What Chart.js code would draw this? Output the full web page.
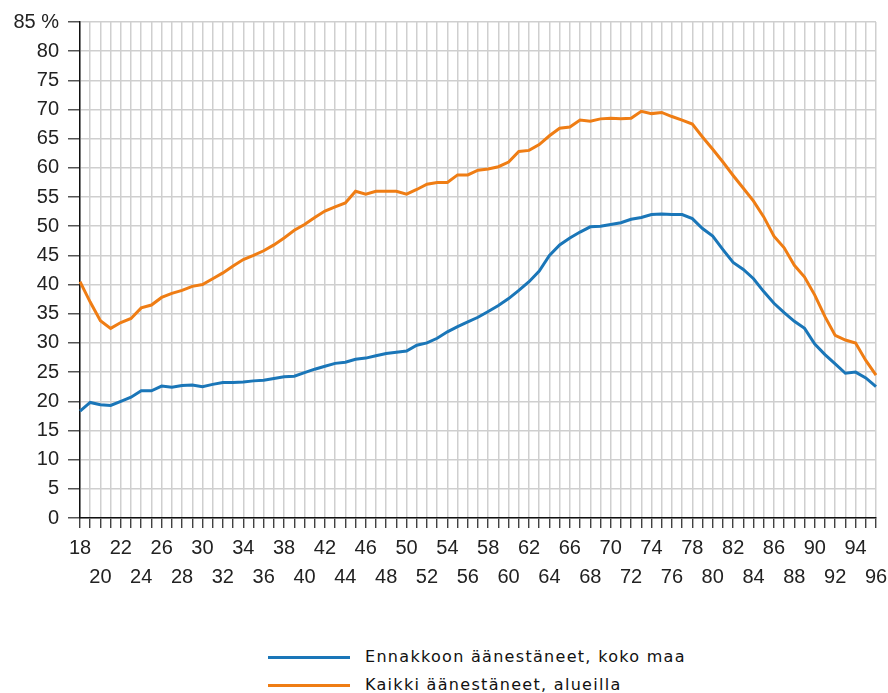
<!DOCTYPE html>
<html lang="fi">
<head>
    <meta charset="UTF-8">
    <title>Äänestysaktiivisuus iän mukaan</title>
    <style>
        body { margin: 0; background: white; font-family: "Liberation Sans", Arial, sans-serif; }
        .wrap { position: relative; width: 888px; height: 693px; }
        .chart-box { position: absolute; left: 0; top: 0; width: 888px; height: 610px; }
        .legend { position: absolute; left: 268px; top: 643px; font-family: "DejaVu Sans", Verdana, sans-serif; font-size: 16px; color: #111; letter-spacing: 1.3px; }
        .legend div { height: 28px; line-height: 28px; white-space: nowrap; }
        .legend span.line { display: inline-block; width: 82px; height: 3px; vertical-align: middle; margin-right: 15px; }
    </style>
    <script src="https://cdn.jsdelivr.net/npm/chart.js"></script>
</head>
<body>
<div class="wrap">
    <div class="chart-box"><canvas id="voteChart"></canvas></div>
    <div class="legend" id="legend"></div>
</div>
<script>
    // ikä (vuotta)
    const ages = [18,19,20,21,22,23,24,25,26,27,28,29,30,31,32,33,34,35,36,37,38,39,40,41,42,43,44,45,46,47,48,49,
        50,51,52,53,54,55,56,57,58,59,60,61,62,63,64,65,66,67,68,69,70,71,72,73,74,75,76,77,78,79,80,81,82,83,84,85,
        86,87,88,89,90,91,92,93,94,95,96];

    // Ennakkoon äänestäneet, koko maa (%)
    const ennakko = [18.3,19.8,19.4,19.3,20.0,20.7,21.8,21.8,22.6,22.4,22.7,22.8,22.5,22.9,23.2,23.2,23.3,23.5,23.6,23.9,
        24.2,24.3,24.9,25.5,26.0,26.5,26.7,27.2,27.4,27.8,28.2,28.4,28.6,29.6,30.0,30.8,31.9,32.8,33.6,34.4,
        35.4,36.4,37.6,39.0,40.5,42.3,45.0,46.8,48.0,49.0,49.9,50.0,50.3,50.6,51.2,51.5,52.0,52.1,52.0,52.0,
        51.3,49.6,48.3,46.0,43.8,42.6,41.0,38.8,36.8,35.2,33.7,32.5,29.8,28.0,26.4,24.8,25.0,24.0,22.5];

    // Kaikki äänestäneet, alueilla (%)
    const kaikki = [40.5,37.0,33.8,32.5,33.5,34.2,36.0,36.5,37.8,38.5,39.0,39.7,40.0,41.0,42.0,43.2,44.3,45.0,45.8,46.8,
        48.0,49.3,50.3,51.5,52.6,53.3,54.0,56.0,55.5,56.0,56.0,56.0,55.5,56.3,57.2,57.5,57.5,58.8,58.8,59.6,
        59.8,60.2,61.0,62.8,63.0,64.0,65.5,66.8,67.0,68.2,68.0,68.4,68.5,68.4,68.5,69.7,69.3,69.5,68.8,68.2,
        67.5,65.3,63.2,61.0,58.7,56.5,54.3,51.6,48.3,46.3,43.3,41.3,38.2,34.5,31.3,30.5,30.0,27.0,24.5];

    const seriesNames = ['Ennakkoon äänestäneet, koko maa', 'Kaikki äänestäneet, alueilla'];
    const seriesColors = ['#1a76b8', '#ef7d14'];

    const yMax = 85;
    const yStep = 5;

    const tickFont = { family: '"Liberation Sans", Arial, sans-serif', size: 20 };

    const ctx = document.getElementById('voteChart').getContext('2d');
    const chart = new Chart(ctx, {
        type: 'line',
        data: {
            labels: ages,
            datasets: [
                { label: seriesNames[0], data: ennakko, borderColor: seriesColors[0], borderWidth: 3, pointRadius: 0, tension: 0 },
                { label: seriesNames[1], data: kaikki, borderColor: seriesColors[1], borderWidth: 3, pointRadius: 0, tension: 0 }
            ]
        },
        options: {
            responsive: true,
            maintainAspectRatio: false,
            animation: false,
            layout: { padding: { top: 22, right: 0, left: 0, bottom: 0 } },
            plugins: { legend: { display: false }, tooltip: { enabled: false } },
            scales: {
                x: {
                    offset: false,
                    grid: { color: '#cfcfcf', lineWidth: 1.5, tickColor: '#222', tickLength: 10, tickWidth: 1.2 },
                    border: { color: '#111', width: 1.5 },
                    ticks: {
                        autoSkip: false, maxRotation: 0, padding: 6,
                        color: '#222', font: Object.assign({ lineHeight: 1.45 }, tickFont),
                        callback: function (value) {
                            const age = this.getLabelForValue(value);
                            const d = (age - 18) % 4;
                            if (d === 0) return [String(age)];
                            if (d === 2) return ['', String(age)];
                            return '';
                        }
                    },
                    afterFit: function (scale) {
                        scale.height = 92;
                        scale.paddingRight = 12;
                        scale.paddingLeft = 0;
                    }
                },
                y: {
                    min: 0, max: yMax,
                    grid: { color: '#cfcfcf', lineWidth: 1.5, tickColor: '#555', tickLength: 12, tickWidth: 1.5 },
                    border: { color: '#111', width: 1.5 },
                    ticks: {
                        stepSize: yStep, padding: 9, color: '#222',
                        font: tickFont,
                        callback: v => v === yMax ? v + ' %' : v
                    },
                    afterFit: function (scale) { scale.width = 80; }
                }
            }
        }
    });

    // legend below the chart
    const legend = document.getElementById('legend');
    chart.data.datasets.forEach(ds => {
        const row = document.createElement('div');
        row.innerHTML = '<span class="line" style="background:' + ds.borderColor + '"></span>' + ds.label;
        legend.appendChild(row);
    });
</script>
</body>
</html>
